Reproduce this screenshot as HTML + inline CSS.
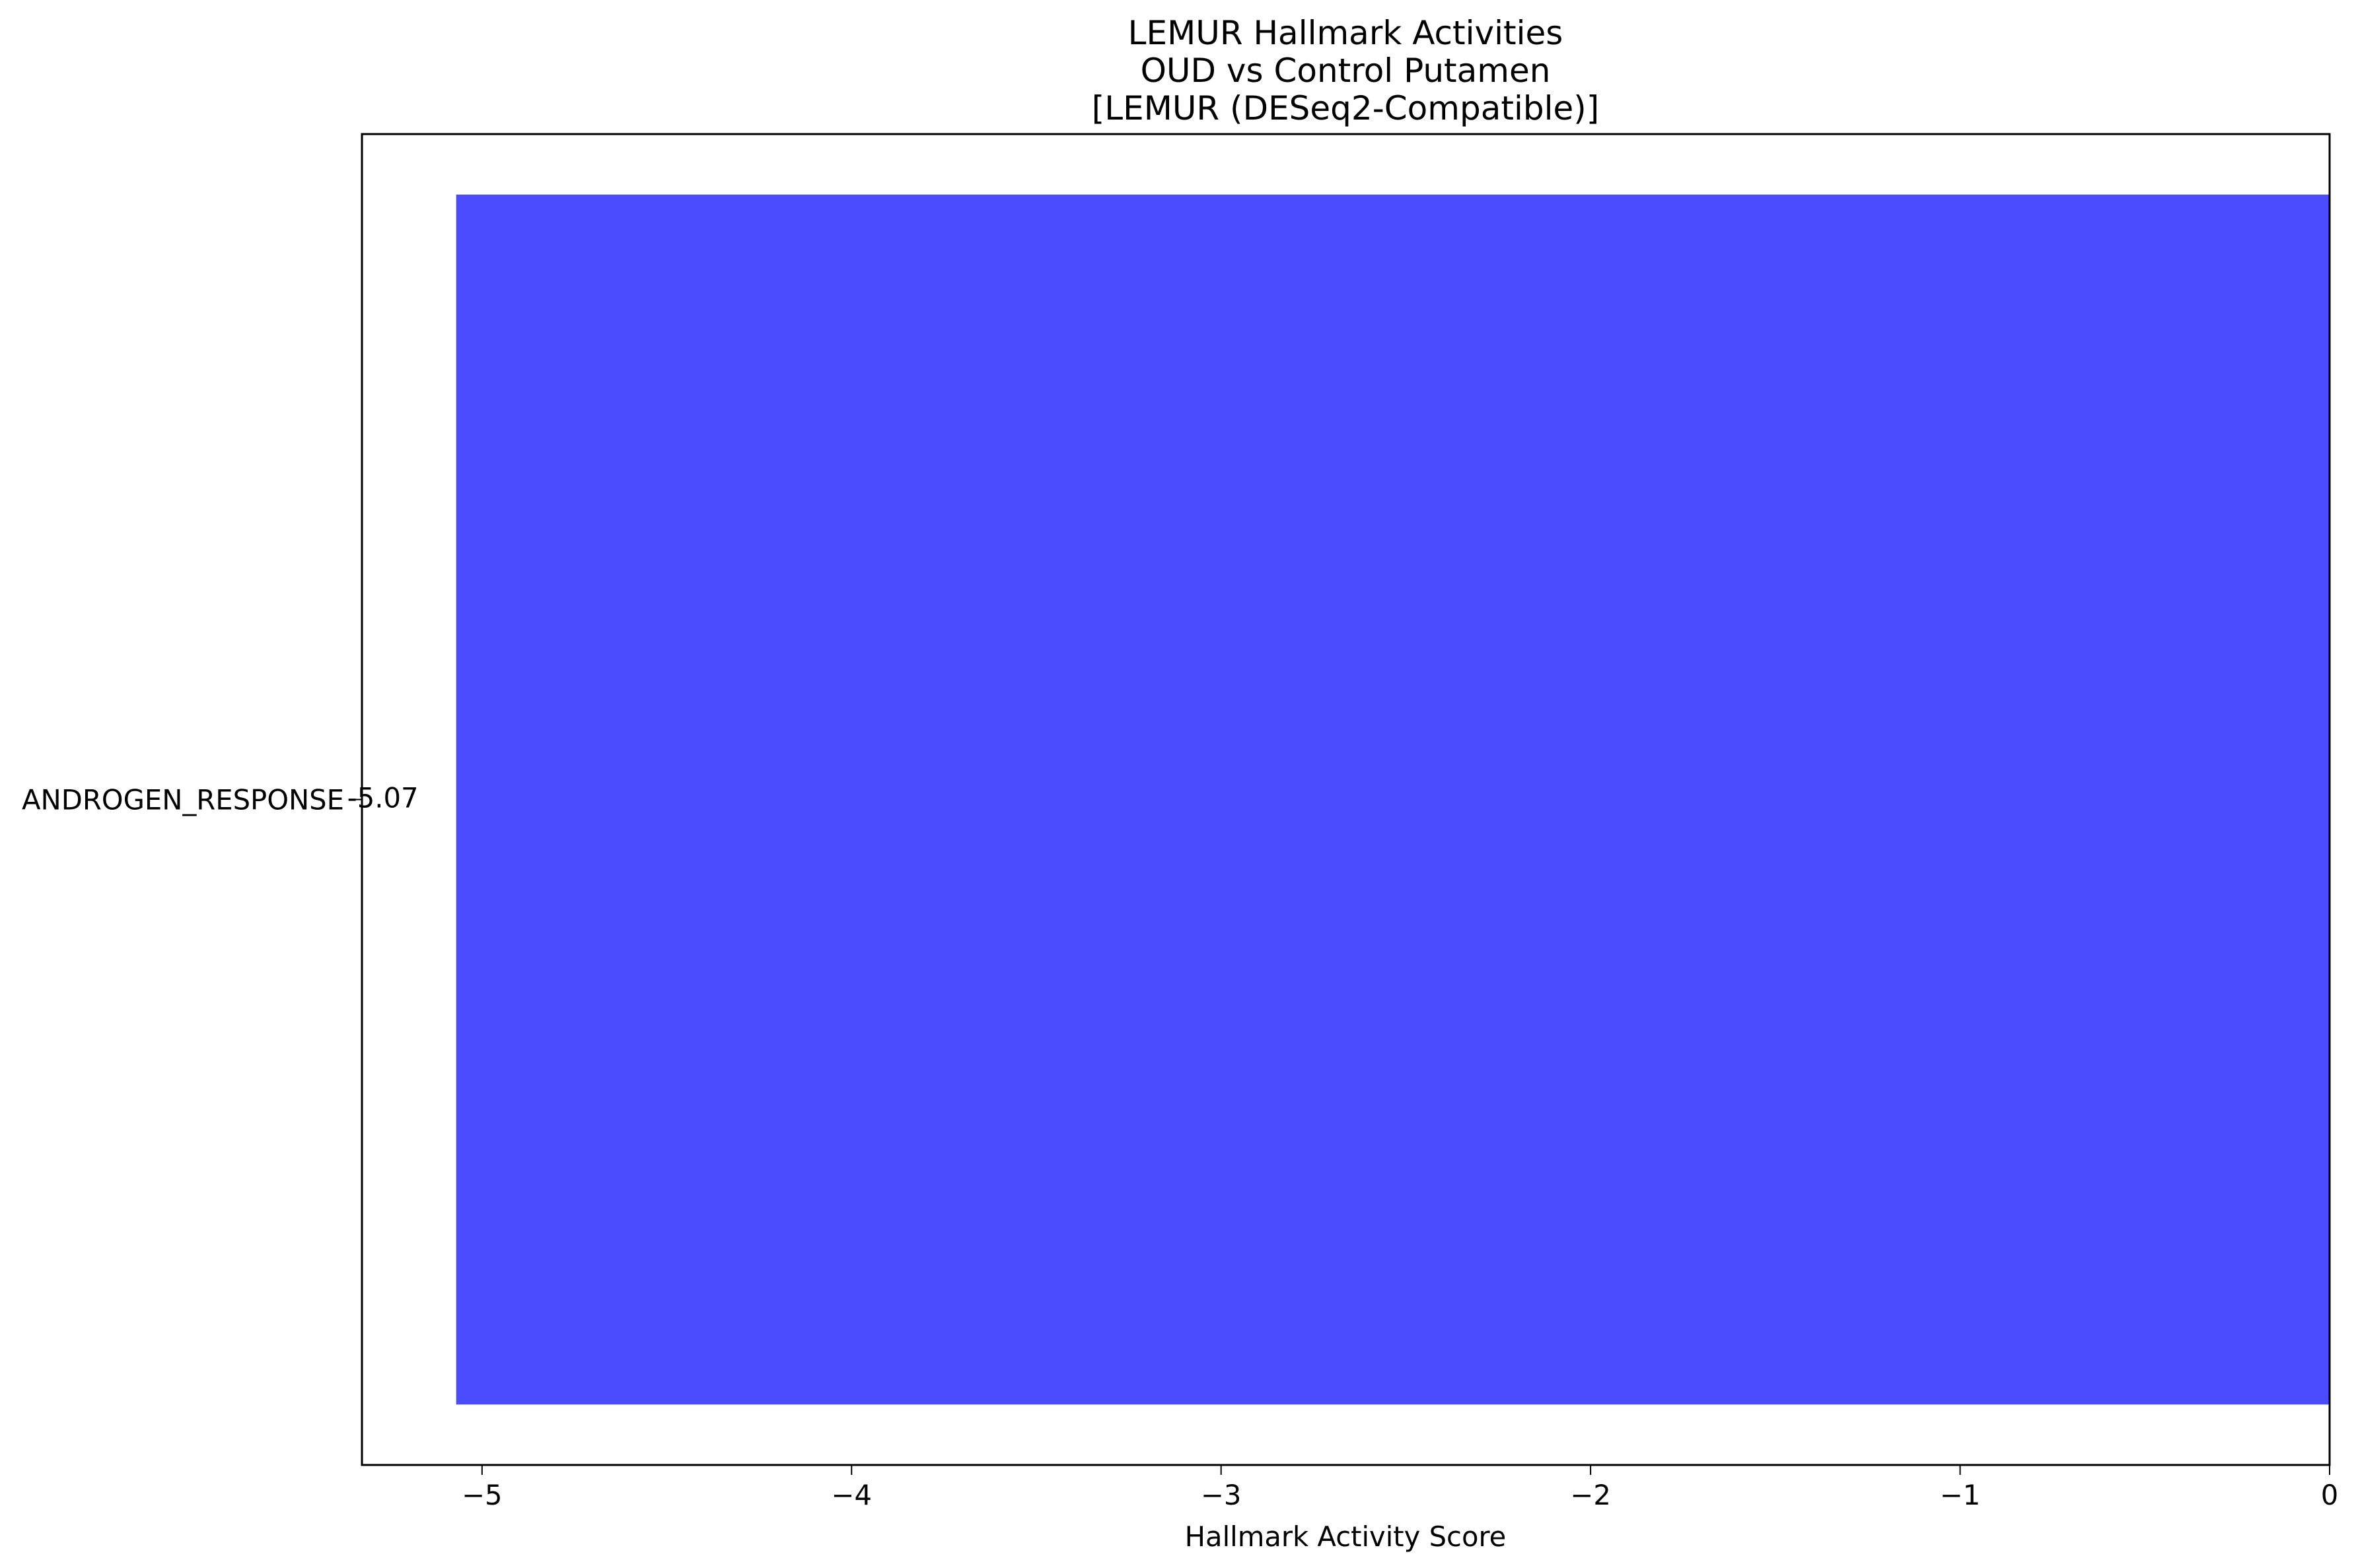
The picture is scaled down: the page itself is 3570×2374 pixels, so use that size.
<!DOCTYPE html>
<html><head><meta charset="utf-8"><style>
html,body{margin:0;padding:0;background:#fff;}
svg{display:block;font-family:"DejaVu Sans","Liberation Sans",sans-serif;}
</style></head><body>
<svg id="chart" width="3570" height="2374" viewBox="0 0 3570 2374">
<rect width="3570" height="2374" fill="#fff"/>
<g font-size="50" text-anchor="middle" fill="#000">
<text x="2037" y="67">LEMUR Hallmark Activities</text>
<text x="2037" y="124">OUD vs Control Putamen</text>
<text x="2037" y="181">[LEMUR (DESeq2-Compatible)]</text>
</g>
<g id="bars"></g>
<g id="xticks"></g>
<g id="yticks"></g>
<rect x="548" y="203" width="2979" height="2015" fill="none" stroke="#000" stroke-width="3"/>
<text x="2037" y="2341" font-size="41.7" text-anchor="middle">Hallmark Activity Score</text>
</svg>
<script>
const categories = ["ANDROGEN_RESPONSE"];
const values = [-5.07];
const valueLabels = ["-5.07"];
const xTicks = [-5, -4, -3, -2, -1, 0];
const xTickLabels = ["\u22125", "\u22124", "\u22123", "\u22122", "\u22121", "0"];

const NS = "http://www.w3.org/2000/svg";
const L = 548, R = 3527, T = 203, B = 2218;
const xMin = -5.325, xMax = 0;
function xs(v){ return L + (v - xMin) / (xMax - xMin) * (R - L); }
const n = categories.length;
const yMin = -0.44, yMax = n - 1 + 0.44;
function ys(i){ return T + (i - yMin) / (yMax - yMin) * (B - T); }

const bars = document.getElementById("bars");
categories.forEach((c, i) => {
  const x0 = xs(Math.min(0, values[i])), x1 = xs(Math.max(0, values[i]));
  const y0 = ys(i - 0.4), y1 = ys(i + 0.4);
  const r = document.createElementNS(NS, "rect");
  r.setAttribute("x", x0); r.setAttribute("y", y0);
  r.setAttribute("width", x1 - x0); r.setAttribute("height", y1 - y0);
  r.setAttribute("fill", "#4b4bff");
  
  
  bars.appendChild(r);
  const t = document.createElementNS(NS, "text");
  t.setAttribute("x", xs(values[i]) - 165); t.setAttribute("y", ys(i) + 12);
  t.setAttribute("font-size", "41.7");
  t.textContent = valueLabels[i];
  
  
  bars.appendChild(t);
});

const yt = document.getElementById("yticks");
categories.forEach((c, i) => {
  const y = ys(i);
  const ln = document.createElementNS(NS, "line");
  ln.setAttribute("x1", L - 15); ln.setAttribute("x2", L);
  ln.setAttribute("y1", y); ln.setAttribute("y2", y);
  ln.setAttribute("stroke", "#000"); ln.setAttribute("stroke-width", "2");
  
  
  yt.appendChild(ln);
  const t = document.createElementNS(NS, "text");
  t.setAttribute("x", L - 27); t.setAttribute("y", y + 15);
  t.setAttribute("font-size", "41.7"); t.setAttribute("text-anchor", "end");
  t.textContent = c;
  
  
  yt.appendChild(t);
});

const xt = document.getElementById("xticks");
xTicks.forEach((v, i) => {
  const x = xs(v);
  const ln = document.createElementNS(NS, "line");
  ln.setAttribute("x1", x); ln.setAttribute("x2", x);
  ln.setAttribute("y1", B); ln.setAttribute("y2", B + 15);
  ln.setAttribute("stroke", "#000"); ln.setAttribute("stroke-width", "2");
  
  
  xt.appendChild(ln);
  const t = document.createElementNS(NS, "text");
  t.setAttribute("x", x); t.setAttribute("y", B + 60);
  t.setAttribute("font-size", "41.7"); t.setAttribute("text-anchor", "middle");
  t.textContent = xTickLabels[i];
  
  
  xt.appendChild(t);
});
</script>
</body></html>
